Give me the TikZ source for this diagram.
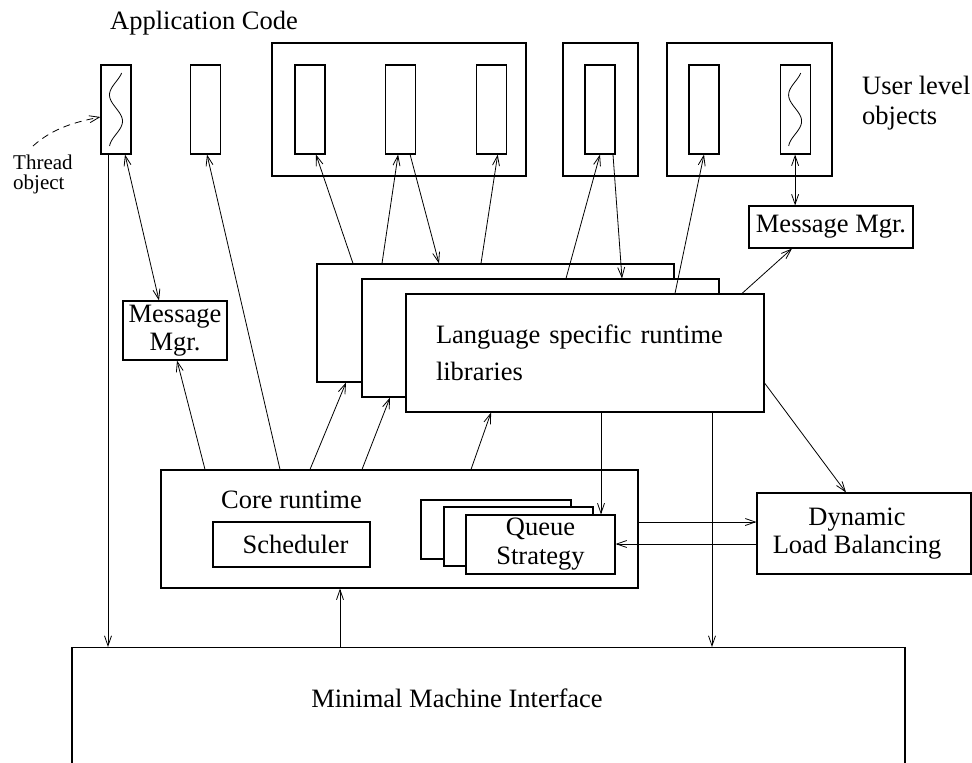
\documentclass[tikz,border=0pt]{standalone}
\usepackage{fontspec}
\setmainfont{Liberation Serif}
\usetikzlibrary{arrows.meta,positioning}

\begin{document}
\begin{tikzpicture}[
  x=1pt, y=-1pt,
  font=\fontsize{26.5}{29}\selectfont,
  box/.style={draw, line width=1.1pt, fill=white, inner sep=0pt, align=center},
  obj/.style={box, minimum width=30, minimum height=89},
  arrow/.style={-{Straight Barb[length=10pt, width=7pt]}, line width=0.8pt},
  twoway/.style={{Straight Barb[length=10pt, width=7pt]}-{Straight Barb[length=10pt, width=7pt]}, line width=0.8pt},
  txt/.style={inner sep=0pt, align=left}
]
\useasboundingbox (0,0) rectangle (972,763);
\clip (0,0) rectangle (972,763);

% application code
\node (title) at (204,23) {Application Code};
\node[obj] (thr) at (116,109.5) {};
\node[obj] (app) at (205.5,109.5) {};
\node[box, minimum width=254, minimum height=133] (grpA) at (399,109.5) {};
\node[obj] (objA1) at (310,109.5) {};
\node[obj, right=59pt of objA1] (objA2) {};
\node[obj, right=60pt of objA2] (objA3) {};
\node[box, minimum width=75, minimum height=133] (grpB) at (600.5,109.5) {};
\node[obj] (objB) at (600,109.5) {};
\node[box, minimum width=165, minimum height=133] (grpC) at (749.5,109.5) {};
\node[obj] (objC1) at (704,109.5) {};
\node[obj, right=60pt of objC1] (objC2) {};
\foreach \o in {thr, objC2}
  \draw[line width=0.8pt, shift={(\o.center)}] plot[domain=0:1, samples=40, smooth] ({6.5*cos(30+500*\x)}, {-36.5*(1-2*\x)});
\node[txt, anchor=west, font=\fontsize{26.5}{30}\selectfont] (ulo) at (862,103) {User level\\objects};
\node[txt, anchor=west, font=\fontsize{21}{20}\selectfont] (tlbl) at (13,174) {Thread\\object};
\coordinate (tobj) at (33,146);

% message managers
\node[box, minimum width=164, minimum height=42] (msgR) at (831,227) {Message Mgr.};
\node[box, minimum width=104, minimum height=59, font=\fontsize{26.5}{28}\selectfont] (msgL) at (175,330.5) {Message\\Mgr.};

% runtime libraries
\node[box, minimum width=357, minimum height=118] (langA) at (495.5,323) {};
\node[box, minimum width=357, minimum height=118] (langB) at (540.5,338) {};
\node[box, minimum width=358, minimum height=118, text width=298, inner xsep=30, align=left, font=\fontsize{26.5}{37}\selectfont] (langC) at (585,353) {Language specific runtime\\libraries};

% core runtime
\node[box, minimum width=477, minimum height=118] (core) at (399.5,529) {};
\node (corelbl) at (291.5,500) {Core runtime};
\node[box, minimum width=157, minimum height=45] (sched) at (291.5,544.5) {\hspace*{8pt}Scheduler};
\node[box, minimum width=150, minimum height=59] (q1) at (496,529.5) {};
\node[box, minimum width=149, minimum height=59] (q2) at (518.5,536.5) {};
\node[box, minimum width=149, minimum height=59] (q3) at (540.5,544.5) {Queue\\Strategy};
\node[box, minimum width=214, minimum height=81, font=\fontsize{26.5}{28}\selectfont] (dlb) at (864,533.5) {Dynamic\hspace*{14pt}\\Load Balancing\hspace*{14pt}};

% machine interface
\node[box, minimum width=833, minimum height=160, anchor=north] (mmi) at (488.5,647) {};
\node (mmilbl) at (457,698) {Minimal Machine Interface};

% connectors
\draw[arrow] ([xshift=-8]thr.south) -- ([xshift=-8]thr.south |- mmi.north);
\draw[twoway] ([xshift=9]thr.south) -- ([xshift=-16]msgL.north);
\draw[arrow] ([xshift=-194.5]core.north) -- ([xshift=2]msgL.south);
\draw[arrow] ([xshift=-119.5]core.north) -- ([xshift=1.5]app.south);
\draw[arrow] ([xshift=-89.5]core.north) -- ([xshift=-149.5]langA.south);
\draw[arrow] ([xshift=-37.5]core.north) -- ([xshift=-150.5]langB.south);
\draw[arrow] ([xshift=71.5]core.north) -- ([xshift=-94]langC.south);
\draw[arrow] ([xshift=-142.5]langA.north) -- ([xshift=6]objA1.south);
\draw[arrow] ([xshift=-113.5]langA.north) -- ([xshift=-2]objA2.south);
\draw[arrow] ([xshift=10]objA2.south) -- ([xshift=-56.5]langA.north);
\draw[arrow] ([xshift=-14.5]langA.north) -- ([xshift=6.5]objA3.south);
\draw[arrow] ([xshift=25.5]langB.north) -- (objB.south);
\draw[arrow] ([xshift=13]objB.south) -- ([xshift=81.5]langB.north);
\draw[arrow] ([xshift=90]langC.north) -- (objC1.south);
\draw[arrow] ([xshift=157]langC.north) -- ([xshift=-39]msgR.south);
\draw[twoway] (objC2.south) -- (objC2.south |- msgR.north);
\draw[arrow] ([yshift=-30]langC.east) -- ([xshift=-18]dlb.north);
\draw[arrow] ([xshift=16]langC.south) -- ([xshift=16]langC.south |- q3.north);
\draw[arrow] ([xshift=127]langC.south) -- ([xshift=127]langC.south |- mmi.north);
\draw[arrow] ([yshift=7]core.east) -- ([yshift=7]core.east -| dlb.west);
\draw[arrow] ([yshift=-10.5]dlb.west) -- ([yshift=-10.5]dlb.west -| q3.east);
\draw[arrow] ([xshift=-148.5]mmi.north) -- ([xshift=-148.5]mmi.north |- core.south);
\draw[arrow, dash pattern=on 7pt off 5pt] (tobj) .. controls +(20,-18) and +(-25,5) .. ([yshift=-7.5]thr.west);
\end{tikzpicture}
\end{document}
